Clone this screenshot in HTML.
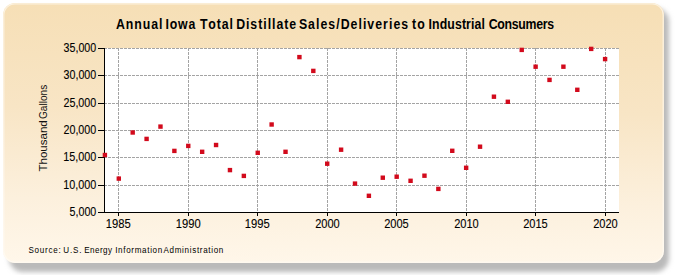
<!DOCTYPE html>
<html><head><meta charset="utf-8"><style>
html,body{margin:0;padding:0;width:675px;height:275px;overflow:hidden;background:#fff;}
svg{display:block;}
text{font-kerning:none;}
.g{stroke:#a4a4a4;stroke-width:1;stroke-dasharray:3 1;fill:none;}
.a{stroke:#000;stroke-width:1;fill:none;}
.m{fill:#d20a1c;}
.t{font-family:"Liberation Sans",sans-serif;font-size:12px;fill:#000;stroke:#000;stroke-width:0.1px;}
.ti{font-family:"Liberation Sans",sans-serif;font-size:14px;font-weight:bold;fill:#000;}
.s{font-family:"Liberation Sans",sans-serif;font-size:9.6px;fill:#000;}
.yt{font-family:"Liberation Sans",sans-serif;font-size:11.5px;fill:#111;}
</style></head><body>
<svg width="675" height="275" viewBox="0 0 675 275">
<defs>
<linearGradient id="bg" x1="0.03" y1="0" x2="0" y2="1">
<stop offset="0" stop-color="#f6dfb6"/>
<stop offset="0.4" stop-color="#f8e5c5"/>
<stop offset="0.75" stop-color="#fcf0dd"/>
<stop offset="1" stop-color="#fff7ea"/>
</linearGradient>
<filter id="sh" x="-10%" y="-10%" width="120%" height="120%"><feGaussianBlur stdDeviation="2.6"/></filter>
<filter id="sm" x="-2%" y="-2%" width="104%" height="104%"><feGaussianBlur stdDeviation="0.6"/></filter>
</defs>
<rect x="9" y="8" width="660" height="264" rx="14" fill="#bababa" filter="url(#sh)"/>
<g filter="url(#sm)"><rect x="3" y="3" width="661" height="260" rx="12" fill="url(#bg)"/>
<rect x="3.8" y="3.8" width="659.4" height="258.4" rx="11.2" fill="none" stroke="#fffcf6" stroke-opacity="0.65" stroke-width="1.2"/></g>
<rect x="105" y="48" width="514" height="164" fill="#fff"/>
<line x1="104" y1="48.5" x2="619" y2="48.5" class="g"/>
<line x1="104" y1="75.5" x2="619" y2="75.5" class="g"/>
<line x1="104" y1="103.5" x2="619" y2="103.5" class="g"/>
<line x1="104" y1="130.5" x2="619" y2="130.5" class="g"/>
<line x1="104" y1="157.5" x2="619" y2="157.5" class="g"/>
<line x1="104" y1="185.5" x2="619" y2="185.5" class="g"/>
<line x1="118.5" y1="48" x2="118.5" y2="212" class="g"/>
<line x1="188.5" y1="48" x2="188.5" y2="212" class="g"/>
<line x1="257.5" y1="48" x2="257.5" y2="212" class="g"/>
<line x1="327.5" y1="48" x2="327.5" y2="212" class="g"/>
<line x1="396.5" y1="48" x2="396.5" y2="212" class="g"/>
<line x1="466.5" y1="48" x2="466.5" y2="212" class="g"/>
<line x1="535.5" y1="48" x2="535.5" y2="212" class="g"/>
<line x1="605.5" y1="48" x2="605.5" y2="212" class="g"/>
<line x1="104.5" y1="48" x2="104.5" y2="213" class="a"/>
<line x1="104" y1="212.5" x2="619" y2="212.5" class="a"/>
<line x1="98" y1="48.5" x2="104" y2="48.5" class="a"/>
<line x1="98" y1="75.5" x2="104" y2="75.5" class="a"/>
<line x1="98" y1="103.5" x2="104" y2="103.5" class="a"/>
<line x1="98" y1="130.5" x2="104" y2="130.5" class="a"/>
<line x1="98" y1="157.5" x2="104" y2="157.5" class="a"/>
<line x1="98" y1="185.5" x2="104" y2="185.5" class="a"/>
<line x1="98" y1="212.5" x2="104" y2="212.5" class="a"/>
<line x1="118.5" y1="213" x2="118.5" y2="216" class="a"/>
<line x1="188.5" y1="213" x2="188.5" y2="216" class="a"/>
<line x1="257.5" y1="213" x2="257.5" y2="216" class="a"/>
<line x1="327.5" y1="213" x2="327.5" y2="216" class="a"/>
<line x1="396.5" y1="213" x2="396.5" y2="216" class="a"/>
<line x1="466.5" y1="213" x2="466.5" y2="216" class="a"/>
<line x1="535.5" y1="213" x2="535.5" y2="216" class="a"/>
<line x1="605.5" y1="213" x2="605.5" y2="216" class="a"/>
<rect x="102.71" y="152.80" width="4.4" height="4.4" class="m"/>
<rect x="116.60" y="176.40" width="4.4" height="4.4" class="m"/>
<rect x="130.49" y="130.30" width="4.4" height="4.4" class="m"/>
<rect x="144.39" y="136.70" width="4.4" height="4.4" class="m"/>
<rect x="158.28" y="124.40" width="4.4" height="4.4" class="m"/>
<rect x="172.18" y="148.70" width="4.4" height="4.4" class="m"/>
<rect x="186.07" y="143.70" width="4.4" height="4.4" class="m"/>
<rect x="199.96" y="149.60" width="4.4" height="4.4" class="m"/>
<rect x="213.86" y="142.80" width="4.4" height="4.4" class="m"/>
<rect x="227.75" y="167.90" width="4.4" height="4.4" class="m"/>
<rect x="241.65" y="173.70" width="4.4" height="4.4" class="m"/>
<rect x="255.54" y="150.60" width="4.4" height="4.4" class="m"/>
<rect x="269.43" y="122.30" width="4.4" height="4.4" class="m"/>
<rect x="283.33" y="149.60" width="4.4" height="4.4" class="m"/>
<rect x="297.22" y="54.90" width="4.4" height="4.4" class="m"/>
<rect x="311.12" y="68.70" width="4.4" height="4.4" class="m"/>
<rect x="325.01" y="161.50" width="4.4" height="4.4" class="m"/>
<rect x="338.90" y="147.50" width="4.4" height="4.4" class="m"/>
<rect x="352.80" y="181.40" width="4.4" height="4.4" class="m"/>
<rect x="366.69" y="193.60" width="4.4" height="4.4" class="m"/>
<rect x="380.59" y="175.50" width="4.4" height="4.4" class="m"/>
<rect x="394.48" y="174.50" width="4.4" height="4.4" class="m"/>
<rect x="408.37" y="178.60" width="4.4" height="4.4" class="m"/>
<rect x="422.27" y="173.50" width="4.4" height="4.4" class="m"/>
<rect x="436.16" y="186.70" width="4.4" height="4.4" class="m"/>
<rect x="450.06" y="148.60" width="4.4" height="4.4" class="m"/>
<rect x="463.95" y="165.60" width="4.4" height="4.4" class="m"/>
<rect x="477.84" y="144.50" width="4.4" height="4.4" class="m"/>
<rect x="491.74" y="94.50" width="4.4" height="4.4" class="m"/>
<rect x="505.63" y="99.60" width="4.4" height="4.4" class="m"/>
<rect x="519.53" y="47.70" width="4.4" height="4.4" class="m"/>
<rect x="533.42" y="64.50" width="4.4" height="4.4" class="m"/>
<rect x="547.31" y="77.70" width="4.4" height="4.4" class="m"/>
<rect x="561.21" y="64.50" width="4.4" height="4.4" class="m"/>
<rect x="575.10" y="87.60" width="4.4" height="4.4" class="m"/>
<rect x="589.00" y="46.70" width="4.4" height="4.4" class="m"/>
<rect x="602.89" y="56.90" width="4.4" height="4.4" class="m"/>
<text x="63.59" y="52" textLength="32.67" lengthAdjust="spacingAndGlyphs" class="t">35,000</text>
<text x="63.59" y="79" textLength="32.67" lengthAdjust="spacingAndGlyphs" class="t">30,000</text>
<text x="63.46" y="107" textLength="32.81" lengthAdjust="spacingAndGlyphs" class="t">25,000</text>
<text x="63.46" y="134" textLength="32.81" lengthAdjust="spacingAndGlyphs" class="t">20,000</text>
<text x="63.18" y="161" textLength="33.10" lengthAdjust="spacingAndGlyphs" class="t">15,000</text>
<text x="63.18" y="189" textLength="33.10" lengthAdjust="spacingAndGlyphs" class="t">10,000</text>
<text x="69.52" y="216" textLength="26.75" lengthAdjust="spacingAndGlyphs" class="t">5,000</text>
<text x="105.85" y="228" textLength="24.92" lengthAdjust="spacingAndGlyphs" class="t">1985</text>
<text x="175.85" y="228" textLength="24.89" lengthAdjust="spacingAndGlyphs" class="t">1990</text>
<text x="244.85" y="228" textLength="24.92" lengthAdjust="spacingAndGlyphs" class="t">1995</text>
<text x="315.14" y="228" textLength="24.59" lengthAdjust="spacingAndGlyphs" class="t">2000</text>
<text x="384.14" y="228" textLength="24.62" lengthAdjust="spacingAndGlyphs" class="t">2005</text>
<text x="454.14" y="228" textLength="24.59" lengthAdjust="spacingAndGlyphs" class="t">2010</text>
<text x="523.14" y="228" textLength="24.62" lengthAdjust="spacingAndGlyphs" class="t">2015</text>
<text x="593.14" y="228" textLength="24.59" lengthAdjust="spacingAndGlyphs" class="t">2020</text>
<text transform="translate(115.92,28.8) scale(0.88,1)" x="0" y="0" textLength="52.85" lengthAdjust="spacing" class="ti">Annual</text>
<text transform="translate(165.40,28.8) scale(0.88,1)" x="0" y="0" textLength="33.94" lengthAdjust="spacing" class="ti">Iowa</text>
<text transform="translate(199.93,28.8) scale(0.88,1)" x="0" y="0" textLength="37.49" lengthAdjust="spacing" class="ti">Total</text>
<text transform="translate(236.14,28.8) scale(0.88,1)" x="0" y="0" textLength="68.20" lengthAdjust="spacing" class="ti">Distillate</text>
<text transform="translate(298.88,28.8) scale(0.88,1)" x="0" y="0" textLength="124.15" lengthAdjust="spacing" class="ti">Sales/Deliveries</text>
<text transform="translate(411.92,28.8) scale(0.88,1)" x="0" y="0" textLength="14.61" lengthAdjust="spacing" class="ti">to</text>
<text transform="translate(428.44,28.8) scale(0.88,1)" x="0" y="0" textLength="64.28" lengthAdjust="spacing" class="ti">Industrial</text>
<text transform="translate(488.74,28.8) scale(0.88,1)" x="0" y="0" textLength="74.23" lengthAdjust="spacing" class="ti">Consumers</text>
<text transform="translate(28.48,252.9) scale(0.84,1)" x="0" y="0" textLength="38.53" lengthAdjust="spacing" class="s">Source:</text>
<text transform="translate(63.26,252.9) scale(0.84,1)" x="0" y="0" textLength="21.69" lengthAdjust="spacing" class="s">U.S.</text>
<text transform="translate(84.16,252.9) scale(0.84,1)" x="0" y="0" textLength="33.28" lengthAdjust="spacing" class="s">Energy</text>
<text transform="translate(115.14,252.9) scale(0.84,1)" x="0" y="0" textLength="56.10" lengthAdjust="spacing" class="s">Information</text>
<text transform="translate(163.49,252.9) scale(0.84,1)" x="0" y="0" textLength="71.25" lengthAdjust="spacing" class="s">Administration</text>
<text transform="translate(47.3,256) rotate(-90)" x="84.44" y="0" textLength="51.30" lengthAdjust="spacingAndGlyphs" class="yt">Thousand</text>
<text transform="translate(47.3,256) rotate(-90)" x="136.99" y="0" textLength="34.27" lengthAdjust="spacingAndGlyphs" class="yt">Gallons</text>
</svg>
</body></html>
